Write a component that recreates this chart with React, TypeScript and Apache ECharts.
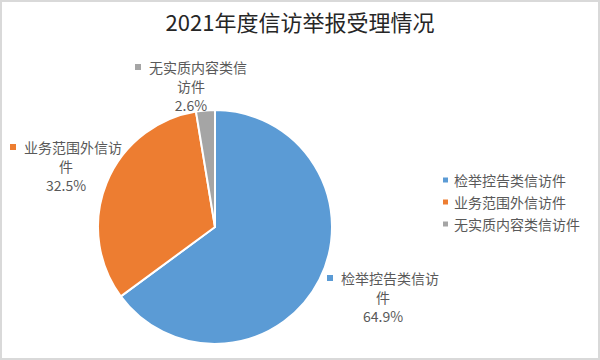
import React, { useEffect, useRef } from "react";
import * as echarts from "echarts";

const titleText = "2021年度信访举报受理情况";
const categories = ["检举控告类信访件", "业务范围外信访件", "无实质内容类信访件"];
const values = [64.9, 32.5, 2.6];
const colors = ["#5B9BD5", "#ED7D31", "#A5A5A5"];

const labelPos: { x: number; y: number }[] = [
  { x: 383, y: 297 },
  { x: 66, y: 166 },
  { x: 191, y: 86 },
];

export default function App() {
  const ref = useRef<HTMLDivElement>(null);
  useEffect(() => {
    if (!ref.current) return;
    const chart = echarts.init(ref.current, undefined, { renderer: "svg" });
    const data = categories.map((name, i) => ({
      name,
      value: values[i],
      itemStyle: { color: colors[i] },
      label: {
        rich: {
          m: { width: 6, height: 6, backgroundColor: colors[i], fontSize: 6, lineHeight: 19 },
          g: { width: 8, fontSize: 14, lineHeight: 19 },
          t: { fontSize: 14, color: "#595959", lineHeight: 19 },
        },
      },
    }));
    chart.setOption({
      animation: false,
      backgroundColor: "#ffffff",
      title: {
        text: titleText,
        left: "center",
        top: 5,
        textStyle: {
          fontFamily: "Noto Sans CJK SC",
          fontSize: 22,
          fontWeight: "normal",
          color: "#262626",
        },
      },
      legend: {
        orient: "vertical",
        left: 436,
        top: 168,
        itemWidth: 7,
        itemHeight: 7,
        itemGap: 8,
        icon: "rect",
        data: categories,
        textStyle: {
          fontFamily: "Noto Sans CJK SC",
          fontSize: 14,
          color: "#595959",
        },
      },
      graphic: [
        {
          type: "rect",
          shape: { x: 1, y: 1, width: 598, height: 358 },
          style: { fill: "none", stroke: "#d9d9d9", lineWidth: 2 },
          silent: true,
        },
      ],
      series: [
        {
          type: "pie",
          center: [215, 227],
          radius: 117,
          startAngle: 90,
          clockwise: true,
          itemStyle: { borderColor: "#ffffff", borderWidth: 2 },
          labelLine: { show: false },
          label: {
            show: true,
            position: "outside",
            overflow: "none",
            fontFamily: "Noto Sans CJK SC",
            fontSize: 14,
            color: "#595959",
            align: "center",
            lineHeight: 19,
            formatter: (p: any) => {
              const n: string = p.name;
              const first = n.slice(0, 7);
              const rest = n.slice(7);
              return `{m| }{g| }{t|${first}}\n{t|${rest}}\n{t|${Number(p.value).toFixed(1)}%}`;
            },
          },
          labelLayout: (params: any) => {
            const pos = labelPos[params.dataIndex];
            return { x: pos.x, y: pos.y, align: "center", verticalAlign: "middle" };
          },
          data,
        },
      ],
    });
    return () => chart.dispose();
  }, []);
  return (
    <div
      ref={ref}
      style={{ position: "fixed", left: 0, top: 0, width: 600, height: 360 }}
    />
  );
}
